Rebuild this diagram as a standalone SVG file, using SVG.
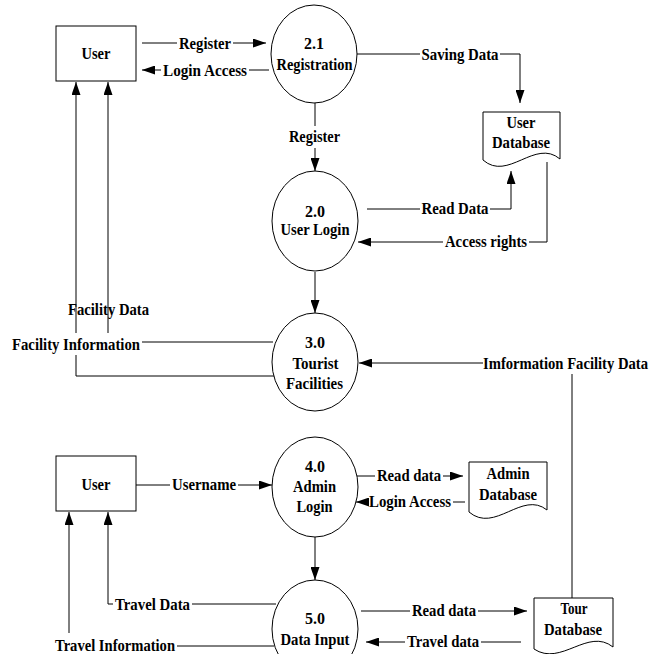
<svg xmlns="http://www.w3.org/2000/svg" width="664" height="654" viewBox="0 0 664 654">
  <style>
    .shape { fill: #fff; stroke: #000; stroke-width: 1; }
    .flow { fill: none; stroke: #000; stroke-width: 1; marker-end: url(#arrow); }
    .line { fill: none; stroke: #000; stroke-width: 1; }
    text { font-family: "Liberation Serif", "Times New Roman", serif; font-weight: bold; font-size: 16px; text-anchor: middle; fill: #000; }
  </style>
  <defs>
    <marker id="arrow" markerUnits="userSpaceOnUse" markerWidth="13" markerHeight="9" refX="13" refY="4.5" orient="auto">
      <path d="M0,0 L13,4.5 L0,9 Z" fill="#000"/>
    </marker>
  </defs>
  <rect width="664" height="654" fill="#fff"/>

  <!-- data flows -->
  <g id="connectors">
    <path class="flow" d="M142,43 H177 M233,43 H266"/>
    <path class="flow" d="M269,70 H249 M161,70 H142"/>
    <path class="flow" d="M357,54 H420 M500,54 H520 V103"/>
    <path class="flow" d="M315,103 V126 M315,148 V171"/>
    <path class="flow" d="M367,209 H420 M490,209 H511 V171"/>
    <path class="flow" d="M547,162 V242 H529 M443,242 H358"/>
    <path class="flow" d="M315,272 V313"/>
    <path class="flow" d="M275,376 H76 V355 M76,333 V82"/>
    <path class="flow" d="M108,333 V82"/>
    <path class="line" d="M273,342 H142"/>
    <path class="flow" d="M572,598 V374 M483,363 H359"/>
    <path class="flow" d="M136,485 H170 M238,485 H272"/>
    <path class="flow" d="M357,476 H375 M443,476 H463"/>
    <path class="flow" d="M465,502 H453 M369,502 H356"/>
    <path class="flow" d="M315,537 V580"/>
    <path class="flow" d="M361,611 H410 M478,611 H527"/>
    <path class="flow" d="M521,642 H481 M405,642 H366"/>
    <path class="flow" d="M276,604 H192 M113,604 H108 V512"/>
    <path class="line" d="M274,646 H177"/>
    <path class="flow" d="M69,633 V512"/>

    <!-- flow labels -->
    <text x="205" y="48.5" textLength="52" lengthAdjust="spacingAndGlyphs">Register</text>
    <text x="205" y="75.5" textLength="84" lengthAdjust="spacingAndGlyphs">Login Access</text>
    <text x="460" y="59.5" textLength="77" lengthAdjust="spacingAndGlyphs">Saving Data</text>
    <text x="314.5" y="142" textLength="51" lengthAdjust="spacingAndGlyphs">Register</text>
    <text x="455" y="213.5" textLength="67" lengthAdjust="spacingAndGlyphs">Read Data</text>
    <text x="486" y="246.5" textLength="82" lengthAdjust="spacingAndGlyphs">Access rights</text>
    <text x="108.5" y="315" textLength="81" lengthAdjust="spacingAndGlyphs">Facility Data</text>
    <text x="76" y="349.5" textLength="128" lengthAdjust="spacingAndGlyphs">Facility Information</text>
    <text x="565.5" y="368.5" textLength="165" lengthAdjust="spacingAndGlyphs">Imformation Facility Data</text>
    <text x="204" y="490" textLength="64" lengthAdjust="spacingAndGlyphs">Username</text>
    <text x="409" y="481" textLength="64" lengthAdjust="spacingAndGlyphs">Read data</text>
    <text x="410" y="507" textLength="82" lengthAdjust="spacingAndGlyphs">Login Access</text>
    <text x="444" y="616" textLength="64" lengthAdjust="spacingAndGlyphs">Read data</text>
    <text x="443" y="647" textLength="72" lengthAdjust="spacingAndGlyphs">Travel data</text>
    <text x="152.5" y="609.5" textLength="75" lengthAdjust="spacingAndGlyphs">Travel Data</text>
    <text x="115" y="650.5" textLength="120" lengthAdjust="spacingAndGlyphs">Travel Information</text>
  </g>

  <!-- external entities -->
  <g id="user-top">
    <rect class="shape" x="56" y="26" width="80" height="55"/>
    <text x="96" y="58.5" textLength="29" lengthAdjust="spacingAndGlyphs">User</text>
  </g>
  <g id="user-bottom">
    <rect class="shape" x="56" y="456" width="80" height="55"/>
    <text x="96" y="489.5" textLength="29" lengthAdjust="spacingAndGlyphs">User</text>
  </g>

  <!-- processes -->
  <g id="p-2-1">
    <ellipse class="shape" cx="314" cy="54" rx="43" ry="49"/>
    <text x="314" y="49" textLength="20" lengthAdjust="spacingAndGlyphs">2.1</text>
    <text x="314.5" y="70" textLength="76" lengthAdjust="spacingAndGlyphs">Registration</text>
  </g>
  <g id="p-2-0">
    <ellipse class="shape" cx="315" cy="221" rx="43" ry="50"/>
    <text x="315" y="216.5" textLength="20" lengthAdjust="spacingAndGlyphs">2.0</text>
    <text x="315" y="235" textLength="69" lengthAdjust="spacingAndGlyphs">User Login</text>
  </g>
  <g id="p-3-0">
    <ellipse class="shape" cx="315" cy="362" rx="43" ry="49"/>
    <text x="315" y="347.5" textLength="20" lengthAdjust="spacingAndGlyphs">3.0</text>
    <text x="315.5" y="368.5" textLength="46" lengthAdjust="spacingAndGlyphs">Tourist</text>
    <text x="314.5" y="389" textLength="57" lengthAdjust="spacingAndGlyphs">Facilities</text>
  </g>
  <g id="p-4-0">
    <ellipse class="shape" cx="315" cy="487" rx="43" ry="50"/>
    <text x="315" y="471.5" textLength="20" lengthAdjust="spacingAndGlyphs">4.0</text>
    <text x="314.5" y="491.5" textLength="43" lengthAdjust="spacingAndGlyphs">Admin</text>
    <text x="314.5" y="511.5" textLength="36" lengthAdjust="spacingAndGlyphs">Login</text>
  </g>
  <g id="p-5-0">
    <ellipse class="shape" cx="315" cy="629" rx="43" ry="49"/>
    <text x="315" y="624" textLength="20" lengthAdjust="spacingAndGlyphs">5.0</text>
    <text x="315" y="645" textLength="69" lengthAdjust="spacingAndGlyphs">Data Input</text>
  </g>

  <!-- data stores -->
  <g id="db-user">
    <path class="shape" d="M483,112 H560 V159 C535,138 508,182 483,160 Z"/>
    <text x="521" y="127.5" textLength="29" lengthAdjust="spacingAndGlyphs">User</text>
    <text x="521" y="148" textLength="58" lengthAdjust="spacingAndGlyphs">Database</text>
  </g>
  <g id="db-admin">
    <path class="shape" d="M469,462 H547 V510 C522,490 495,534 469,512 Z"/>
    <text x="508" y="478.5" textLength="43" lengthAdjust="spacingAndGlyphs">Admin</text>
    <text x="508" y="499.5" textLength="58" lengthAdjust="spacingAndGlyphs">Database</text>
  </g>
  <g id="db-tour">
    <path class="shape" d="M534,598 H613 V647 C588,627 561,667 534,649 Z"/>
    <text x="574" y="614" textLength="27" lengthAdjust="spacingAndGlyphs">Tour</text>
    <text x="573" y="635" textLength="58" lengthAdjust="spacingAndGlyphs">Database</text>
  </g>
</svg>
